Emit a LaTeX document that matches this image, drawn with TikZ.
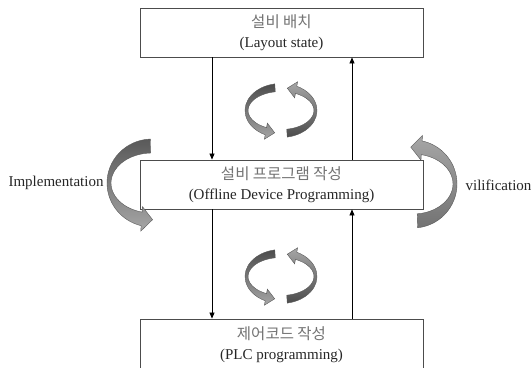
\documentclass[tikz,border=0pt]{standalone}
\usepackage{fontspec}
\setmainfont{Liberation Serif}
\newfontfamily\kfont{Noto Sans CJK KR}
\usetikzlibrary{arrows.meta,calc,positioning}

% two-line stage text: Korean over English
\newcommand{\stagetext}[2]{{\kfont\fontsize{15.5}{20}\selectfont\color{black!55}#1}\\{\color{black!85}#2}}

% curved ribbon arrow: [style]{centre}{rx out}{ry out}{rx in}{ry in}{start}{end}{head}
\newcommand{\ribbonarrow}[9][]{%
  \begin{scope}[shift={(#2)}]
    \pgfmathsetmacro\rhext{0.5*#9}
    \coordinate (ro) at (#8:#3 and #4);
    \coordinate (ri) at (#8:#5 and #6);
    \coordinate (rm) at ($(ro)!0.5!(ri)$);
    \path[#1] (#7:#3 and #4)
      arc[start angle=#7, end angle=#8, x radius=#3, y radius=#4]
      -- ($(ro)!-\rhext pt!(ri)$) -- ($(rm)!#9pt!90:(ro)$)
      -- ($(ri)!-\rhext pt!(ro)$) -- (ri)
      arc[start angle=#8, end angle=#7, x radius=#5, y radius=#6] -- cycle;
  \end{scope}}

\begin{document}
\begin{tikzpicture}[x=1pt, y=1pt,
  stagebox/.style={draw=black!70, line width=0.9pt, fill=white, minimum width=283pt,
    minimum height=49pt, inner sep=0pt, align=center, font=\fontsize{15}{20}\selectfont},
  flow/.style={-{Triangle[length=6pt,width=5pt]}, line width=0.7pt},
  sidelabel/.style={font=\fontsize{15}{17}\selectfont, text=black!85},
  twist/.style={draw=black!65, line width=0.4pt}]
  \useasboundingbox (0,0) rectangle (532,367);

  % Stages
  \node[stagebox] (layout) at (281.5,334.5) {\stagetext{설비 배치}{(Layout state)}};
  \node[stagebox] (offline) at (281.5,182.5) {\stagetext{설비 프로그램 작성}{(Offline Device Programming)}};
  \node[stagebox, minimum height=52pt] (plc) at (281.5,22) {\stagetext{제어코드 작성}{(PLC programming)}};

  % Flow lines
  \coordinate (dnx) at (212,0);
  \coordinate (upx) at (352,0);
  \draw[flow] (layout.south -| dnx) -- (offline.north -| dnx);
  \draw[flow] (offline.north -| upx) -- (layout.south -| upx);
  \draw[flow] (offline.south -| dnx) -- (plc.north -| dnx);
  \draw[flow] (plc.north -| upx) -- (offline.south -| upx);

  % Cycle icons
  \ribbonarrow[twist, top color=black!70, bottom color=black!35]{281,256.5}{36}{27}{33}{19}{100}{244}{9}
  \ribbonarrow[twist, top color=black!35, bottom color=black!70]{281,256.5}{36}{27}{33}{19}{280}{424}{9}
  \ribbonarrow[twist, top color=black!70, bottom color=black!35]{281,90.5}{36}{27}{33}{19}{100}{244}{9}
  \ribbonarrow[twist, top color=black!35, bottom color=black!70]{281,90.5}{36}{27}{33}{19}{280}{424}{9}

  % Side arrows
  \ribbonarrow[twist, top color=black!65, bottom color=black!35]{152,184}{45}{44}{41}{30}{92}{256}{11}
  \ribbonarrow[twist, top color=black!35, bottom color=black!55]{413,183}{44}{44}{40}{30}{-84}{78}{11}
  \node[sidelabel] (impl) at (56,184) {Implementation};
  \node[sidelabel] (vilif) at (498.5,182) {vilification};
\end{tikzpicture}
\end{document}
